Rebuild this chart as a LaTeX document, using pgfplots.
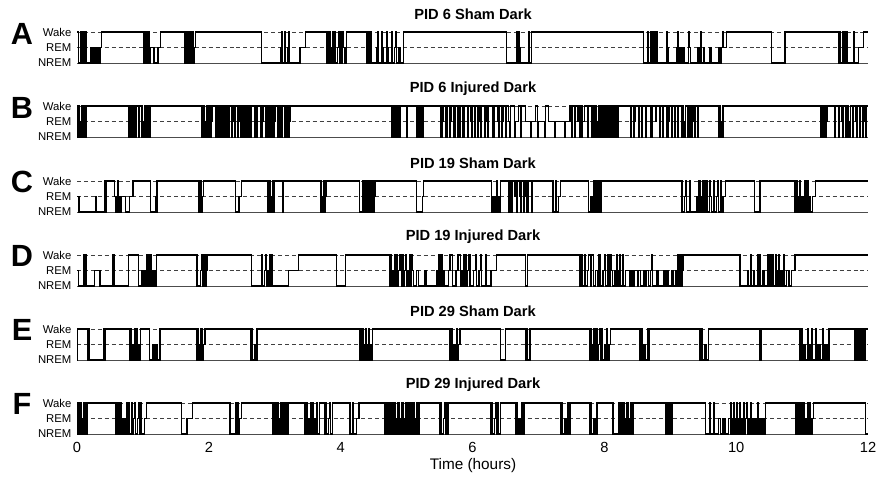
\documentclass[border=0pt]{standalone}
\usepackage{fontspec}
\setmainfont{Liberation Sans}
\usepackage{pgfplots}
\pgfplotsset{compat=1.18}
\pgfplotsset{
  hyp/.style={at={(57.75pt,#1)}, anchor=south west, scale only axis,
    width=593.25pt, height=23.25pt, xmin=0, xmax=12, ymin=0, ymax=2,
    clip=false, axis line style={draw=none}, major tick length=0pt,
    ytick={0,1,2}, yticklabels={NREM,REM,Wake},
    yticklabel style={font=\fontsize{8.5}{10}\selectfont, inner sep=0pt, xshift=-4pt},
    xtick=\empty},
  ref/.style={black!75, line width=0.6pt, dash pattern=on 3pt off 2.2pt, forget plot},
  base/.style={black!70, line width=0.6pt, forget plot},
  tr/.style={const plot, black, line width=1pt}
}
\newcommand{\refs}{%
  \addplot[ref] coordinates {(0,2) (12,2)};
  \addplot[ref] coordinates {(0,1) (12,1)};
  \addplot[base] coordinates {(0,0) (12,0)};}
\begin{document}
\begin{tikzpicture}
\path[use as bounding box] (0,0) rectangle (657pt,360pt);
% ---------- A
\begin{axis}[hyp=312.75pt]
\refs
\addplot[tr] coordinates {
(0,2) (0.02,0) (0.06,2) (0.075,0) (0.09,2) (0.105,0) (0.12,2) (0.135,0) (0.21,1) (0.23,0) (0.25,1) (0.27,0) (0.29,1) (0.31,0) (0.33,1) (0.345,0) (0.355,1) (0.375,2)
(1.006,0) (1.02,2) (1.035,0) (1.05,2) (1.06,1) (1.075,0) (1.09,2) (1.10,0) (1.11,1) (1.17,0) (1.23,1) (1.27,2)
(1.639,0) (1.655,2) (1.665,0) (1.68,2) (1.69,0) (1.705,2) (1.715,0) (1.73,2) (1.74,0) (1.755,2) (1.765,0) (1.78,1) (1.795,2)
(2.80,0) (3.09,1) (3.10,2) (3.11,0) (3.15,2) (3.16,0) (3.20,1) (3.21,2) (3.22,0) (3.384,1) (3.47,2)
(3.79,0) (3.81,2) (3.82,0) (3.84,2) (3.85,1) (3.86,0) (3.88,2) (3.89,0) (3.91,2) (3.92,0) (3.95,1) (3.97,2) (3.98,0) (4.00,2) (4.01,0) (4.03,2) (4.04,1) (4.06,0) (4.08,1) (4.09,2)
(4.40,0) (4.42,2) (4.43,0) (4.45,2) (4.46,0) (4.55,1) (4.56,2) (4.57,0) (4.62,2) (4.63,1) (4.64,0) (4.70,2) (4.71,1) (4.72,0) (4.78,2) (4.79,0) (4.82,1) (4.84,2) (4.85,0) (4.88,1) (4.90,0) (4.95,2)
(6.52,0) (6.67,2) (6.68,0) (6.70,2) (6.71,0) (6.72,1) (6.73,0) (6.85,2) (6.86,0) (6.89,2)
(8.59,0) (8.65,2) (8.66,0) (8.70,2) (8.71,0) (8.72,2) (8.73,0) (8.74,2) (8.75,0) (8.76,2) (8.77,1) (8.78,0) (8.80,2) (8.81,0) (8.95,2) (8.96,1) (8.97,0) (9.10,1) (9.12,2) (9.13,0) (9.15,1) (9.16,0) (9.17,1) (9.18,0) (9.19,1) (9.21,0) (9.28,2) (9.29,1) (9.31,0) (9.42,1) (9.44,0) (9.46,2) (9.47,0) (9.50,1) (9.52,0) (9.60,1) (9.62,0) (9.73,1) (9.75,0) (9.77,1) (9.80,2) (9.81,1) (9.85,2)
(10.54,0) (10.74,2) (11.55,0) (11.57,2) (11.58,0) (11.61,2) (11.62,0) (11.64,2) (11.65,0) (11.68,2) (11.69,0) (11.78,2) (11.79,0) (11.86,1) (11.93,2) (12,2)};
\end{axis}
% ---------- B
\begin{axis}[hyp=257.25pt]
\refs
\addplot[tr] coordinates {
(0,2) (0.01,0) (0.02,2) (0.03,0) (0.045,1) (0.055,0) (0.07,2) (0.08,0) (0.095,2) (0.105,1) (0.115,0) (0.13,2) (0.138,0) (0.146,2)
(0.78,0) (0.79,2) (0.80,0) (0.815,2) (0.825,1) (0.835,0) (0.85,2) (0.86,0) (0.875,2) (0.885,0) (0.895,1) (0.905,2) (0.93,0) (0.94,2) (0.975,0) (0.985,2) (0.995,0) (1.005,1) (1.015,0) (1.03,2) (1.04,0) (1.055,2) (1.065,0) (1.08,2) (1.09,1) (1.10,0) (1.11,2)
(1.89,0) (1.90,2) (1.91,0) (1.925,2) (1.935,1) (1.945,0) (1.96,2) (1.97,0) (1.985,2) (1.995,0) (2.01,2) (2.03,0) (2.04,1) (2.05,2) (2.10,0) (2.11,2) (2.13,0) (2.14,2) (2.16,0) (2.17,1) (2.18,2) (2.20,0) (2.21,2) (2.225,0) (2.235,2) (2.245,1) (2.255,0) (2.27,2) (2.28,0) (2.29,2) (2.30,0) (2.31,2) (2.35,0) (2.36,2) (2.38,1) (2.39,0) (2.40,2) (2.44,0) (2.45,1) (2.46,2) (2.48,0) (2.49,2) (2.52,0) (2.53,2) (2.545,0) (2.555,2) (2.565,1) (2.575,0) (2.59,2) (2.60,0) (2.615,2) (2.625,0) (2.64,2) (2.69,0) (2.70,2) (2.72,1) (2.73,0) (2.74,2) (2.78,0) (2.79,2) (2.80,0) (2.81,1) (2.82,2) (2.86,0) (2.87,2) (2.88,0) (2.895,2) (2.905,1) (2.915,0) (2.93,2) (2.96,0) (2.97,2) (2.99,0) (3.00,1) (3.01,2) (3.04,0) (3.05,2) (3.07,0) (3.08,2) (3.10,1) (3.11,0) (3.12,2) (3.15,0) (3.16,2) (3.17,0) (3.18,1) (3.19,0) (3.20,2) (3.21,0) (3.22,1) (3.23,2)
(4.77,0) (4.78,2) (4.79,0) (4.80,2) (4.81,1) (4.82,0) (4.835,2) (4.845,0) (4.86,2) (4.87,0) (4.88,1) (4.89,0) (4.90,2) (5.00,0) (5.01,2)
(5.15,0) (5.16,2) (5.17,0) (5.18,2) (5.19,1) (5.20,0) (5.21,2) (5.22,0) (5.235,2) (5.245,0) (5.255,1) (5.26,2)
(5.51,0) (5.52,2) (5.53,0) (5.54,1) (5.55,2) (5.59,0) (5.60,2) (5.61,0) (5.62,2) (5.66,0) (5.67,1) (5.68,2) (5.71,0) (5.72,2) (5.73,0) (5.735,2) (5.77,0) (5.78,2) (5.80,1) (5.81,0) (5.82,2) (5.85,0) (5.86,2) (5.87,0) (5.88,2)
(5.92,0) (5.93,2) (5.97,1) (5.98,0) (5.99,2) (6.03,0) (6.04,2) (6.08,0) (6.09,1) (6.10,2) (6.13,0) (6.14,2) (6.18,0) (6.19,2) (6.22,1) (6.23,0) (6.24,2) (6.30,0) (6.31,2) (6.32,0) (6.33,2) (6.38,1) (6.39,0) (6.40,2) (6.45,0) (6.46,1) (6.47,2) (6.50,0) (6.51,2) (6.55,1) (6.56,0) (6.58,2) (6.64,0) (6.65,1) (6.70,2) (6.73,0) (6.74,2) (6.80,1) (6.88,0) (6.89,1) (6.96,2) (6.99,0) (7.00,1) (7.10,0) (7.11,2) (7.15,1) (7.25,0) (7.26,1) (7.40,0) (7.41,1) (7.48,2) (7.50,0) (7.51,2) (7.55,0) (7.56,2) (7.60,1) (7.62,0) (7.63,2) (7.66,0) (7.67,1) (7.70,2) (7.74,0) (7.75,2)
(7.81,0) (7.82,2) (7.83,0) (7.84,1) (7.85,2) (7.86,0) (7.87,2) (7.88,0) (7.89,1) (7.90,0) (7.91,2) (7.92,0) (7.93,2) (7.94,1) (7.95,0) (7.96,2) (7.97,0) (7.98,2) (7.99,0) (8.00,1) (8.01,2) (8.02,0) (8.03,2) (8.04,0) (8.05,1) (8.06,0) (8.07,2) (8.08,0) (8.09,2) (8.10,1) (8.11,0) (8.12,2) (8.13,0) (8.14,2) (8.15,0) (8.16,1) (8.17,2) (8.18,0) (8.19,2) (8.20,0) (8.21,2)
(8.40,0) (8.41,2) (8.45,0) (8.46,1) (8.47,2) (8.52,0) (8.53,2) (8.56,0) (8.57,2) (8.62,1) (8.63,0) (8.64,2) (8.70,0) (8.71,2) (8.72,0) (8.73,2) (8.78,1) (8.79,2) (8.84,0) (8.85,2) (8.88,0) (8.89,1) (8.90,2) (8.94,0) (8.95,2) (8.96,0) (8.97,1) (8.98,2) (9.02,0) (9.03,2) (9.06,0) (9.07,1) (9.08,2) (9.12,0) (9.13,2) (9.18,0) (9.19,2) (9.20,0) (9.21,1) (9.22,0) (9.23,2) (9.26,0) (9.27,2) (9.28,0) (9.29,2) (9.30,1) (9.31,0) (9.32,2) (9.33,0) (9.34,1) (9.36,2) (9.37,0) (9.38,2) (9.42,0) (9.43,2)
(9.73,0) (9.745,2) (9.755,0) (9.765,1) (9.775,0) (9.79,2) (9.80,0) (9.81,2)
(11.28,0) (11.29,2) (11.30,0) (11.31,1) (11.32,0) (11.33,2) (11.34,0) (11.35,2) (11.36,0) (11.37,1) (11.38,2)
(11.50,0) (11.51,2) (11.55,0) (11.56,2) (11.60,1) (11.61,0) (11.62,2) (11.66,0) (11.67,2) (11.68,0) (11.69,2) (11.70,0) (11.71,1) (11.72,0) (11.73,2) (11.77,0) (11.78,2) (11.82,1) (11.83,0) (11.84,2) (11.88,0) (11.89,2) (11.92,0) (11.93,1) (11.94,2) (11.97,0) (11.98,2) (12,2)};
\end{axis}
% ---------- C
\begin{axis}[hyp=201pt]
\refs
\addplot[tr] coordinates {
(0,1) (0.03,0) (0.28,1) (0.30,0) (0.42,2) (0.425,0) (0.43,2) (0.435,0) (0.44,2) (0.57,1) (0.59,0) (0.60,1) (0.61,0) (0.62,2) (0.625,1) (0.65,0) (0.66,1) (0.67,0) (0.68,1) (0.74,0) (0.80,1) (0.85,2)
(1.11,0) (1.19,1) (1.20,0) (1.21,2) (1.215,0) (1.22,2)
(1.84,0) (1.85,2) (1.86,0) (1.87,2) (1.88,1) (1.89,0) (1.90,1) (1.92,2)
(2.40,0) (2.46,1) (2.50,2)
(2.90,0) (2.91,2) (2.92,0) (2.93,2) (2.94,0) (2.95,1) (2.96,0) (2.97,2) (2.98,0) (2.99,2) (3.12,0) (3.13,2)
(3.69,0) (3.70,2) (3.71,0) (3.72,1) (3.73,0) (3.74,2) (3.76,0) (3.77,1) (3.78,2)
(4.29,0) (4.34,2) (4.345,0) (4.35,2) (4.355,0) (4.36,2) (4.365,0) (4.37,2) (4.375,1) (4.38,0) (4.385,2) (4.39,0) (4.40,2) (4.405,0) (4.41,2) (4.415,1) (4.42,0) (4.425,2) (4.43,0) (4.44,2) (4.445,0) (4.45,2) (4.455,1) (4.46,0) (4.47,2) (4.475,0) (4.48,2) (4.49,0) (4.50,2) (4.505,0) (4.51,1) (4.52,2)
(5.15,0) (5.24,1) (5.26,2)
(6.29,0) (6.31,1) (6.32,0) (6.33,1) (6.35,0) (6.36,2) (6.38,0) (6.39,1) (6.41,0) (6.42,2)
(6.55,0) (6.56,2) (6.565,0) (6.57,2) (6.58,1) (6.59,2) (6.60,0) (6.61,2) (6.64,1) (6.65,2) (6.67,0) (6.68,2) (6.72,1) (6.73,0) (6.74,2) (6.78,0) (6.79,1) (6.81,2) (6.82,0) (6.84,2) (6.90,0) (6.91,2)
(7.22,0) (7.26,2) (7.27,0) (7.30,1) (7.33,2)
(7.76,0) (7.80,1) (7.82,0) (7.84,2) (7.845,0) (7.85,2) (7.855,0) (7.86,2) (7.865,1) (7.87,0) (7.875,2) (7.88,0) (7.885,2) (7.89,0) (7.895,2) (7.90,0) (7.905,1) (7.91,0) (7.915,2) (7.92,0) (7.925,2) (7.93,0) (7.935,2) (7.94,0) (7.945,1) (7.95,0) (7.96,2)
(9.18,0) (9.22,1) (9.24,2) (9.25,0) (9.30,2) (9.31,0) (9.40,1) (9.42,0) (9.43,2) (9.44,0) (9.45,2) (9.46,0) (9.47,1) (9.48,0) (9.49,2) (9.50,0) (9.51,2) (9.52,0) (9.53,2) (9.54,1) (9.55,0) (9.56,2) (9.57,0) (9.60,2) (9.61,1) (9.63,0) (9.66,2) (9.67,0) (9.70,1) (9.72,2) (9.73,0) (9.76,2) (9.77,0) (9.80,1) (9.84,2)
(10.28,0) (10.36,2)
(10.89,0) (10.90,2) (10.91,0) (10.92,2) (10.93,1) (10.94,0) (10.96,2) (10.97,0) (11.00,1) (11.02,0) (11.04,2) (11.05,0) (11.06,2) (11.07,1) (11.08,0) (11.09,2) (11.10,0) (11.11,1) (11.13,0) (11.16,1) (11.20,2) (12,2)};
\end{axis}
% ---------- D
\begin{axis}[hyp=145.5pt]
\refs
\addplot[tr] coordinates {
(0,1) (0.02,0) (0.10,2) (0.11,0) (0.13,2) (0.14,0) (0.27,1) (0.35,0) (0.54,2) (0.555,0) (0.56,2) (0.565,0) (0.78,2) (0.93,0) (0.98,1) (0.99,0) (1.00,1) (1.01,0) (1.03,1) (1.04,0) (1.05,2) (1.06,0) (1.07,1) (1.08,2) (1.09,0) (1.10,1) (1.11,0) (1.12,2) (1.13,1) (1.14,0) (1.15,1) (1.17,0) (1.20,1) (1.21,2)
(1.82,0) (1.87,1) (1.89,2) (1.90,0) (1.91,2) (1.92,1) (1.93,0) (1.94,2) (1.95,0) (1.96,1) (1.97,2)
(2.65,0) (2.80,2) (2.81,0) (2.84,1) (2.86,2) (2.87,0) (2.90,1) (2.91,0) (2.92,2) (2.93,0) (2.96,2) (2.97,0) (3.21,1) (3.36,2)
(3.94,0) (4.07,2)
(4.75,0) (4.76,2) (4.77,0) (4.78,1) (4.80,0) (4.82,2) (4.83,0) (4.85,2) (4.86,0) (4.87,1) (4.90,2) (4.92,0) (4.94,2) (4.95,0) (4.96,1) (4.98,2) (5.00,0) (5.02,1) (5.04,0) (5.05,2) (5.06,0) (5.07,2) (5.08,1) (5.10,0) (5.15,1) (5.18,0) (5.28,1) (5.30,0) (5.46,1) (5.48,2) (5.49,0) (5.50,2) (5.51,1) (5.52,0) (5.53,2) (5.54,0) (5.56,1) (5.58,0) (5.64,1) (5.66,2) (5.70,0) (5.75,1) (5.78,2) (5.82,0) (5.84,1) (5.86,2) (5.87,0) (5.88,2)
(5.90,0) (5.92,1) (5.94,2) (5.96,0) (6.02,1) (6.05,2) (6.06,0) (6.10,1) (6.12,2) (6.14,0) (6.20,2) (6.21,0) (6.28,1) (6.36,2)
(6.80,0) (6.83,2)
(7.63,0) (7.65,2) (7.66,0) (7.70,2) (7.71,0) (7.74,1) (7.76,2) (7.79,0) (7.81,2) (7.84,0) (7.87,1) (7.90,0) (7.92,2) (7.94,0) (7.98,1) (8.00,2) (8.02,0) (8.05,2) (8.07,0) (8.09,2) (8.10,1) (8.12,0) (8.16,1) (8.18,2) (8.19,0) (8.22,1) (8.24,2) (8.25,0) (8.28,2) (8.29,0) (8.32,1) (8.38,0) (8.40,1) (8.42,0) (8.45,1) (8.50,0) (8.52,1) (8.55,0) (8.60,1) (8.62,0) (8.64,1) (8.67,0) (8.70,1) (8.72,2) (8.73,0) (8.80,1) (8.82,0) (8.90,1) (8.92,0) (8.95,1) (8.97,0) (9.02,1) (9.04,0) (9.08,1) (9.10,0) (9.12,2) (9.13,0) (9.14,2) (9.15,1) (9.16,0) (9.17,2) (9.18,0) (9.19,1) (9.20,2)
(10.06,0) (10.18,1) (10.19,0) (10.22,2) (10.23,0) (10.26,1) (10.28,0) (10.32,2) (10.33,0) (10.36,2) (10.37,0) (10.40,1) (10.42,0) (10.48,2) (10.49,0) (10.50,2) (10.51,1) (10.52,0) (10.53,2) (10.54,0) (10.55,2) (10.56,1) (10.57,0) (10.60,2) (10.61,0) (10.62,1) (10.64,2) (10.65,0) (10.68,1) (10.70,0) (10.72,2) (10.73,0) (10.76,1) (10.80,0) (10.84,1) (10.89,2) (12,2)};
\end{axis}
% ---------- E
\begin{axis}[hyp=90pt]
\refs
\addplot[tr] coordinates {
(0,0) (0.01,2) (0.16,0) (0.18,2) (0.19,0) (0.40,2) (0.42,0) (0.43,2)
(0.80,0) (0.82,2) (0.83,0) (0.85,1) (0.86,0) (0.88,2) (0.89,0) (0.91,2) (0.92,1) (0.94,0) (0.96,2)
(1.10,0) (1.15,1) (1.17,0) (1.20,1) (1.22,0) (1.26,2)
(1.82,0) (1.83,2) (1.84,0) (1.85,1) (1.86,0) (1.87,2) (1.88,0) (1.89,2) (1.90,1) (1.91,0) (1.92,1) (1.94,2)
(2.63,0) (2.65,2) (2.66,0) (2.69,1) (2.71,0) (2.73,2)
(4.29,0) (4.30,2) (4.31,0) (4.32,1) (4.33,0) (4.34,2) (4.35,0) (4.36,1) (4.37,0) (4.38,2) (4.39,0) (4.40,1) (4.41,0) (4.42,2) (4.43,0) (4.44,1) (4.46,0) (4.48,2)
(5.66,0) (5.68,2) (5.69,0) (5.72,1) (5.74,0) (5.76,2) (5.77,0) (5.79,1) (5.81,2)
(6.42,0) (6.50,2) (6.80,0) (6.82,2) (6.83,0) (6.87,2)
(7.78,0) (7.79,2) (7.80,0) (7.82,1) (7.83,0) (7.84,2) (7.86,0) (7.88,2) (7.89,0) (7.91,1) (7.93,2) (7.94,0) (7.96,2) (7.97,0) (8.00,1) (8.02,0) (8.04,2) (8.05,0) (8.07,1) (8.09,2)
(8.54,0) (8.56,2) (8.57,0) (8.60,1) (8.62,0) (8.66,2) (8.67,0) (8.69,2)
(9.45,0) (9.47,2) (9.48,0) (9.52,1) (9.54,0) (9.58,2)
(10.36,0) (10.38,2)
(10.97,0) (10.99,2) (11.00,0) (11.03,1) (11.05,0) (11.08,2) (11.09,0) (11.12,1) (11.14,2) (11.15,0) (11.20,2) (11.21,0) (11.24,1) (11.27,0) (11.31,2) (11.32,0) (11.35,1) (11.38,0) (11.41,2)
(11.80,0) (11.81,2) (11.82,0) (11.83,1) (11.84,0) (11.85,2) (11.86,0) (11.87,2) (11.88,1) (11.89,0) (11.90,2) (11.91,0) (11.92,1) (11.93,0) (11.94,2) (11.95,0) (11.96,2) (12,2)};
\end{axis}
% ---------- F
\begin{axis}[hyp=34.5pt, xtick={0,2,...,12},
  xticklabel style={font=\fontsize{11}{13}\selectfont, inner sep=0pt, yshift=-6pt},
  /pgf/number format/assume math mode=true]
\refs
\addplot[tr] coordinates {
(0,2) (0.01,0) (0.02,2) (0.03,1) (0.04,0) (0.05,2) (0.06,0) (0.07,1) (0.09,0) (0.10,2) (0.11,0) (0.12,2) (0.13,0) (0.15,2)
(0.58,0) (0.59,2) (0.60,0) (0.61,2) (0.62,0) (0.63,2) (0.64,0) (0.65,2) (0.66,0) (0.67,2) (0.68,0) (0.69,1) (0.70,0) (0.71,1) (0.72,0) (0.73,1) (0.75,0) (0.76,2) (0.77,0) (0.78,1) (0.79,2) (0.80,0) (0.83,2) (0.84,0) (0.85,1) (0.88,2) (0.89,0) (0.92,1) (0.94,2) (0.95,0) (0.97,2) (0.98,0) (1.02,1) (1.05,2)
(1.59,0) (1.67,1) (1.75,2)
(2.32,0) (2.40,2) (2.41,0) (2.43,2) (2.44,0) (2.47,1) (2.50,2)
(2.97,0) (2.98,2) (2.99,0) (3.00,2) (3.01,1) (3.02,0) (3.03,2) (3.04,0) (3.05,2) (3.06,0) (3.07,1) (3.08,0) (3.09,2) (3.10,0) (3.11,2) (3.12,0) (3.13,2) (3.14,1) (3.15,0) (3.16,2) (3.17,0) (3.18,2) (3.19,0) (3.20,2)
(3.46,0) (3.48,2) (3.49,0) (3.51,1) (3.52,0) (3.54,2) (3.55,0) (3.57,2) (3.58,0) (3.60,1) (3.62,0) (3.64,2) (3.65,0) (3.68,2)
(3.76,0) (3.78,2) (3.79,0) (3.82,1) (3.84,2) (3.85,0) (3.88,2)
(4.14,0) (4.18,2) (4.19,0) (4.24,1) (4.28,2)
(4.67,0) (4.68,2) (4.69,0) (4.70,1) (4.71,0) (4.72,2) (4.73,0) (4.74,2) (4.75,0) (4.76,1) (4.77,0) (4.78,2) (4.80,0) (4.82,2) (4.83,0) (4.84,1) (4.85,0) (4.86,2) (4.87,0) (4.88,2) (4.89,0) (4.90,1) (4.91,0) (4.92,2) (4.93,0) (4.94,2) (4.95,0) (4.96,1) (4.97,0) (4.98,2) (4.99,0) (5.00,2) (5.02,0) (5.04,2) (5.05,0) (5.06,1) (5.07,0) (5.08,2) (5.09,0) (5.10,2) (5.11,0) (5.12,1) (5.14,0) (5.16,2) (5.17,0) (5.19,2)
(5.50,0) (5.52,2) (5.53,0) (5.56,1) (5.58,2) (5.60,0) (5.63,2)
(6.27,0) (6.29,2) (6.30,0) (6.33,1) (6.35,2) (6.36,0) (6.38,2) (6.39,0) (6.42,2)
(6.65,0) (6.67,2) (6.68,0) (6.70,1) (6.72,0) (6.74,2) (6.75,0) (6.78,2)
(7.33,0) (7.35,2) (7.36,0) (7.40,1) (7.42,0) (7.45,2) (7.46,0) (7.48,2)
(7.78,0) (7.80,2) (7.81,0) (7.84,1) (7.86,0) (7.89,2)
(8.13,0) (8.21,2) (8.22,0) (8.23,2) (8.24,1) (8.25,0) (8.26,2) (8.27,0) (8.29,2) (8.30,0) (8.31,1) (8.32,0) (8.34,2) (8.35,0) (8.36,2) (8.37,0) (8.38,1) (8.39,0) (8.40,2) (8.41,0) (8.42,2) (8.43,0) (8.44,2)
(8.93,0) (8.95,2) (8.96,0) (8.98,2) (8.99,1) (9.00,0) (9.01,2) (9.02,0) (9.03,2)
(9.53,0) (9.60,2) (9.61,0) (9.66,2) (9.67,0) (9.73,1) (9.76,0) (9.80,1) (9.83,0) (9.88,1) (9.91,0) (9.92,2) (9.93,0) (9.95,1) (9.96,2) (9.97,0) (9.98,1) (10.00,0) (10.01,2) (10.02,0) (10.04,1) (10.05,2) (10.06,0) (10.08,1) (10.10,0) (10.11,2) (10.12,0) (10.14,1) (10.16,2) (10.17,0) (10.19,1) (10.20,0) (10.22,2) (10.23,0) (10.25,1) (10.26,0) (10.27,1) (10.28,0) (10.29,1) (10.30,0) (10.31,1) (10.32,0) (10.33,2) (10.34,0) (10.36,1) (10.37,0) (10.38,1) (10.39,0) (10.40,1) (10.42,0) (10.44,2)
(10.91,0) (10.93,2) (10.94,0) (10.96,2) (10.97,1) (10.98,0) (11.00,2) (11.01,0) (11.03,2) (11.04,0) (11.06,1) (11.07,0) (11.08,2) (11.09,0) (11.10,1) (11.11,0) (11.12,2) (11.13,0) (11.15,1) (11.17,2)
(11.96,0) (12,0)};
\end{axis}
% ---------- titles, letters, x label
\begin{scope}[every node/.style={inner sep=0pt}]
\foreach \yt/\yl/\tt/\ll in {349.5/334.5/PID 6 Sham Dark/A, 293.25/279/PID 6 Injured Dark/B, 237.75/223.5/PID 19 Sham Dark/C, 182.25/168/PID 19 Injured Dark/D, 126.75/112.5/PID 29 Sham Dark/E, 71.25/57/PID 29 Injured Dark/F}{
  \node[font=\bfseries\fontsize{11}{13}\selectfont] at (354.75pt,\yt pt) {\tt};
  \node[font=\bfseries\fontsize{23}{26}\selectfont] at (16.5pt,\yl pt) {\ll};
}
\node[font=\fontsize{11.5}{13}\selectfont] at (354.75pt,10.5pt) {Time (hours)};
\end{scope}
\end{tikzpicture}
\end{document}
